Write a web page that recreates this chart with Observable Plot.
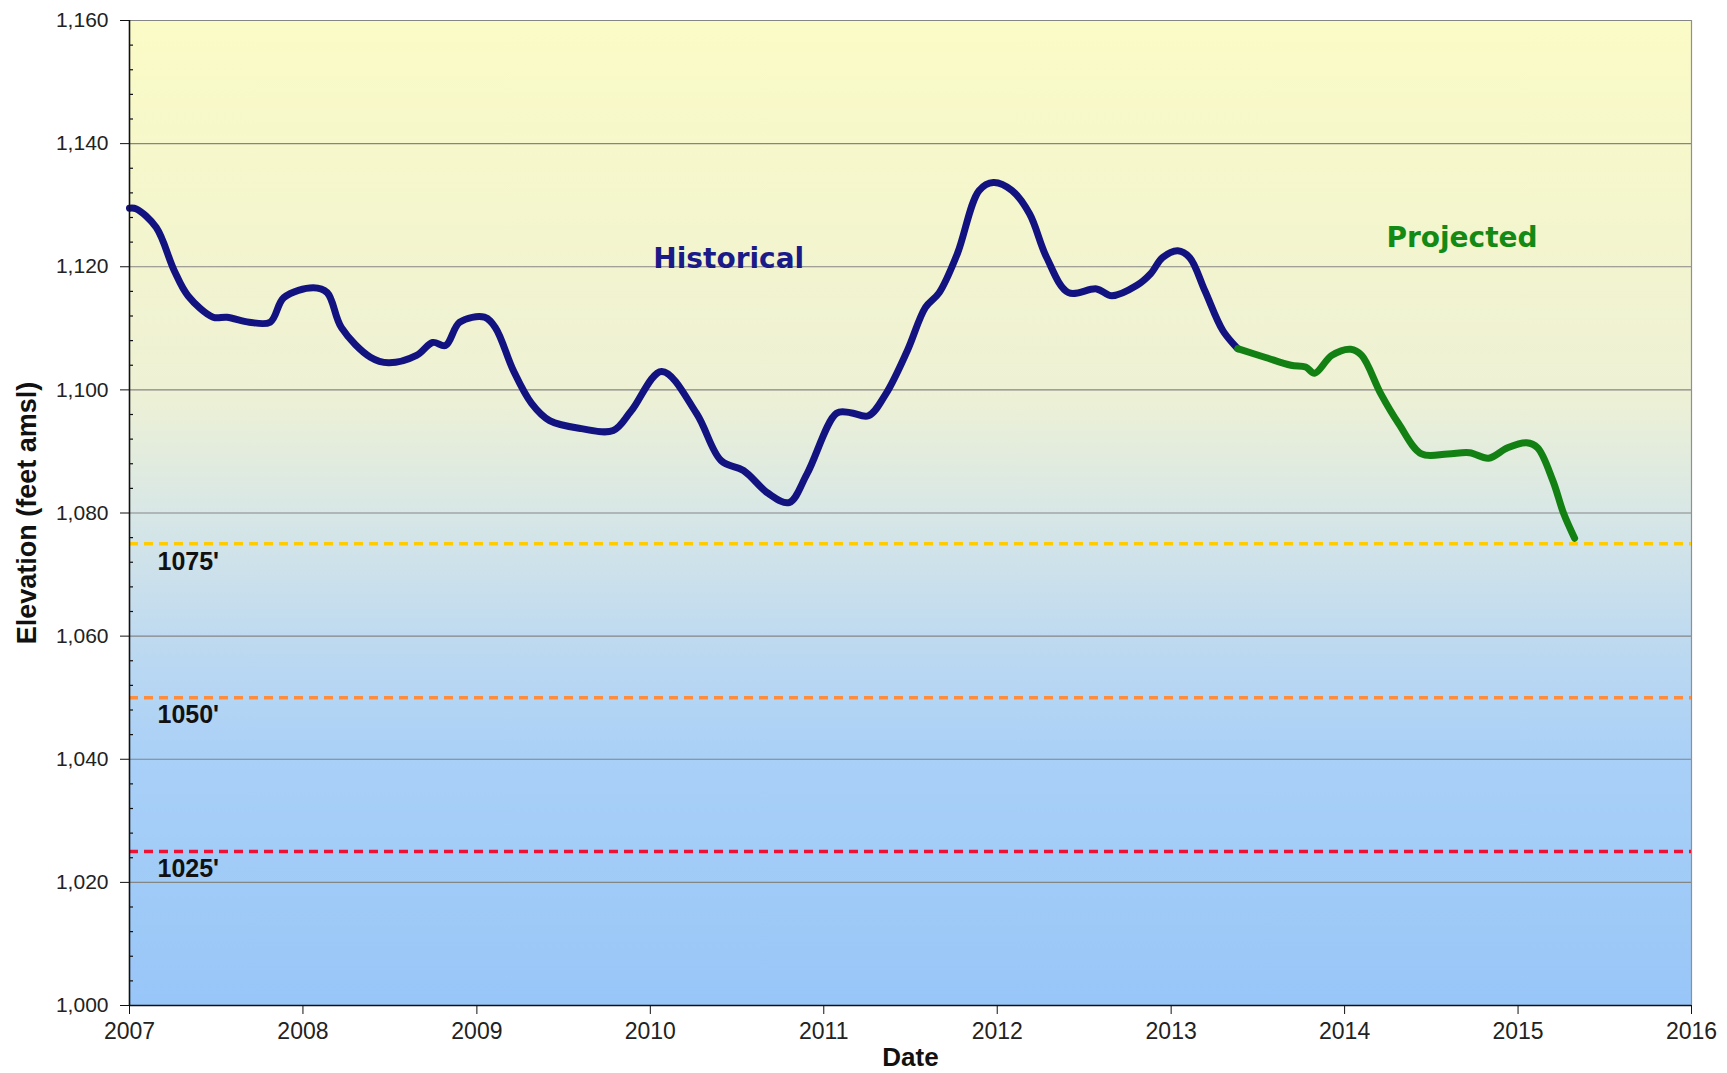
<!DOCTYPE html>
<html>
<head>
<meta charset="utf-8">
<script src="https://cdn.jsdelivr.net/npm/d3@7"></script>
<script src="https://cdn.jsdelivr.net/npm/@observablehq/plot@0.6"></script>
<style>
  html, body { margin: 0; padding: 0; background: #fff; }
  #chart { width: 1727px; height: 1073px; }
</style>
</head>
<body>
<div id="chart"></div>
<script>
// ---- Data ----
const histDates = ["2007-01-01","2007-01-15","2007-02-26","2007-04-05","2007-05-04","2007-06-26","2007-07-25","2007-09-10","2007-10-24","2007-11-22",
  "2008-01-23","2008-02-21","2008-03-22","2008-05-22","2008-06-29","2008-08-27","2008-09-30","2008-10-27","2008-11-26",
  "2009-01-17","2009-02-09","2009-03-19","2009-04-26","2009-06-03","2009-08-09","2009-10-15","2009-11-22",
  "2010-01-25","2010-04-08","2010-05-30","2010-07-16","2010-09-06","2010-10-20","2010-11-27",
  "2011-01-28","2011-02-26","2011-04-05","2011-05-12","2011-06-26","2011-08-03","2011-09-01","2011-10-09","2011-11-24","2011-12-24",
  "2012-02-01","2012-03-09","2012-04-14","2012-05-30","2012-07-28","2012-08-29","2012-10-21","2012-11-19","2012-12-14",
  "2013-01-15","2013-02-09","2013-03-13","2013-04-20","2013-05-21"];
const histElev = [1129.5,1129.4,1126.4,1119.4,1115.3,1111.8,1111.8,1111.0,1111.0,1115.0,
  1116.6,1115.8,1110.1,1105.3,1104.4,1105.6,1107.7,1107.2,1111.0,
  1111.8,1110.1,1103.1,1097.8,1095.0,1093.7,1093.4,1096.6,
  1103.0,1096.2,1088.5,1086.9,1083.2,1081.7,1086.4,
  1096.2,1096.3,1095.8,1099.4,1106.4,1113.4,1115.8,1122.1,1132.4,1133.7,
  1132.4,1128.6,1121.5,1115.8,1116.4,1115.3,1117.0,1118.9,1121.5,
  1122.6,1121.5,1116.1,1109.6,1106.7];

const projDates = ["2013-05-21","2013-07-17","2013-09-10","2013-10-11","2013-10-30","2013-12-05",
  "2014-01-14","2014-02-06","2014-03-18","2014-04-25","2014-06-12","2014-08-06","2014-09-21","2014-10-31","2014-12-10",
  "2015-01-19","2015-02-11","2015-03-15","2015-04-07","2015-04-30"];
const projElev = [1106.7,1105.3,1104.0,1103.7,1102.7,1105.6,
  1106.6,1105.6,1099.4,1094.5,1089.6,1089.6,1089.8,1088.9,1090.6,
  1091.4,1090.6,1085.3,1079.9,1075.9];

const refLevels = [1075, 1050, 1025];
const refLabels = ["1075'", "1050'", "1025'"];
const refColors = ["#ffcc00", "#ff8c3a", "#ee1133"];

const yMajorTicks = [1000, 1020, 1040, 1060, 1080, 1100, 1120, 1140, 1160];
const yMinorTicks = d3.range(1000, 1161, 4).filter(v => v % 20 !== 0);
const xTickYears = ["2007","2008","2009","2010","2011","2012","2013","2014","2015","2016"];

const annotations = [
  {text: "Historical", date: "2010-06-15", elev: 1121.3, color: "#1a1a88"},
  {text: "Projected", date: "2014-09-05", elev: 1124.7, color: "#138a13"}
];

// ---- Build ----
const parse = d3.utcParse("%Y-%m-%d");
const hist = histDates.map((d, i) => ({date: parse(d), elev: histElev[i]}));
const proj = projDates.map((d, i) => ({date: parse(d), elev: projElev[i]}));
const refs = refLevels.map((v, i) => ({v, label: refLabels[i], color: refColors[i]}));
const xTicks = xTickYears.map(y => parse(y + "-01-01"));
const xStart = xTicks[0], xEnd = xTicks[xTicks.length - 1];
const ann = annotations.map(a => ({...a, date: parse(a.date)}));

const FONT = "'Liberation Sans', Arial, sans-serif";

const background = (index, {x, y}) => {
  const g = d3.create("svg:g");
  const grad = g.append("defs").append("linearGradient")
    .attr("id", "bg-grad").attr("x1", 0).attr("y1", 0).attr("x2", 0).attr("y2", 1);
  [[0, "#fbfbc6"], [0.375, "#eef1d4"], [0.5, "#d8e7e6"], [0.625, "#bfdaf0"], [0.75, "#a9d0f7"], [1, "#98c6f8"]]
    .forEach(([o, c]) => grad.append("stop").attr("offset", o).attr("stop-color", c));
  const x0 = x(xStart), x1 = x(xEnd), y0 = y(1160), y1 = y(1000);
  g.append("rect").attr("x", x0).attr("y", y0).attr("width", x1 - x0).attr("height", y1 - y0)
    .attr("fill", "url(#bg-grad)");
  return g.node();
};

const plot = Plot.plot({
  width: 1727,
  height: 1073,
  marginLeft: 129,
  marginRight: 36,
  marginTop: 20,
  marginBottom: 68,
  style: {fontFamily: FONT, background: "#ffffff", overflow: "visible"},
  x: {type: "utc", domain: [xStart, xEnd]},
  y: {domain: [1000, 1160]},
  marks: [
    background,
    Plot.gridY(yMajorTicks, {stroke: "#858585", strokeOpacity: 1, strokeWidth: 1.2}),
    Plot.ruleX([xEnd], {stroke: "#909090", strokeWidth: 1.2}),
    Plot.tickY(yMinorTicks, {y: d => d, stroke: "#111", strokeWidth: 1.2, insetRight: 1562 - 4}),
    Plot.ruleY(refs, {y: "v", stroke: "color", strokeWidth: 3.5, strokeDasharray: "9,6"}),
    Plot.text(refs, {x: () => xStart, y: "v", text: "label", dx: 28, dy: 8, textAnchor: "start", lineAnchor: "top",
      fontSize: 25, fontWeight: "bold", fill: "#111"}),
    Plot.line(hist, {x: "date", y: "elev", stroke: "#121280", strokeWidth: 7, curve: "catmull-rom", strokeLinejoin: "round", strokeLinecap: "round"}),
    Plot.line(proj, {x: "date", y: "elev", stroke: "#138013", strokeWidth: 7, curve: "catmull-rom", strokeLinejoin: "round", strokeLinecap: "round"}),
    Plot.text(ann, {x: "date", y: "elev", text: "text", fill: "color", fontSize: 28, fontWeight: "bold",
      fontFamily: "'DejaVu Sans', Verdana, sans-serif"}),
    Plot.axisY({ticks: yMajorTicks, tickFormat: d3.format(","), tickSize: 9, tickPadding: 12, fontSize: 21,
      label: null, stroke: "#111", color: "#222"}),
    Plot.axisX({ticks: xTicks, tickFormat: d3.utcFormat("%Y"), tickSize: 9, tickPadding: 8, fontSize: 23,
      label: null, stroke: "#111", color: "#222"}),
    Plot.ruleX([xStart], {stroke: "#111", strokeWidth: 1.6}),
    Plot.ruleY([1000], {stroke: "#111", strokeWidth: 1.6}),
    Plot.text(["Elevation (feet amsl)"], {frameAnchor: "left", textAnchor: "middle", dx: -102, rotate: -90, fontSize: 27, fontWeight: "bold", fill: "#111"}),
    Plot.text(["Date"], {frameAnchor: "bottom", textAnchor: "middle", dy: 60, fontSize: 26, fontWeight: "bold", fill: "#111"})
  ]
});

document.getElementById("chart").appendChild(plot);
</script>
</body>
</html>
